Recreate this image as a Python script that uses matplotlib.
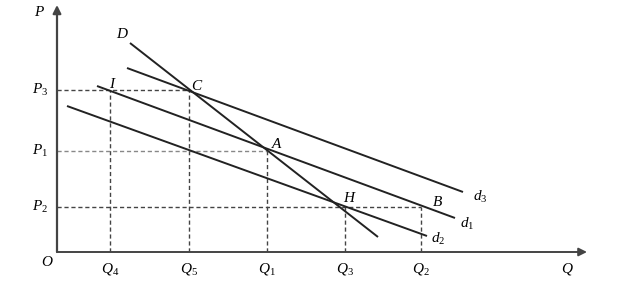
import matplotlib.pyplot as plt

plt.rcParams['mathtext.fontset'] = 'custom'
plt.rcParams['mathtext.it'] = 'Liberation Serif:italic'
plt.rcParams['mathtext.rm'] = 'Liberation Serif'

# demand curves: start / end points (Q, P)
d_x = [73, 321]
d_y = [209, 15]
d3_x = [70, 406]
d3_y = [184, 60]
d1_x = [40, 398]
d1_y = [166, 34]
d2_x = [10, 370]
d2_y = [146, 16]

q_names = ['$Q_4$', '$Q_5$', '$Q_1$', '$Q_3$', '$Q_2$']
q_vals = [53, 132, 210, 288, 364]
q_tops = [162, 162, 101, 45, 45]
p_names = ['$P_3$', '$P_1$', '$P_2$']
p_vals = [162, 101, 45]
p_ends = [132, 210, 364]
p_colors = ['#444444', '#888888', '#444444']

pt_names = ['D', 'C', 'I', 'A', 'H', 'B']
pt_x = [65, 140, 56, 220, 293, 380]
pt_y = [219, 166, 169, 108, 54, 50]

fig = plt.figure(figsize=(6.4, 2.82), dpi=100)
ax = fig.add_axes([57/640, 30/282, 530/640, 247/282])
ax.set_xlim(0, 530)
ax.set_ylim(0, 247)
ax.axis('off')

# axes with arrows
ax.annotate('', xy=(530, 0), xytext=(0, 0),
            arrowprops=dict(arrowstyle='-|>', color='#444444', lw=1.4,
                            mutation_scale=12, shrinkA=0, shrinkB=0))
ax.annotate('', xy=(0, 247), xytext=(0, 0),
            arrowprops=dict(arrowstyle='-|>', color='#444444', lw=1.6,
                            mutation_scale=12, shrinkA=0, shrinkB=0))

# guide lines
for x, top in zip(q_vals, q_tops):
    ax.plot([x, x], [0, top], ls=(0, (3, 2)), color='#444444', lw=1)
for y, end, c in zip(p_vals, p_ends, p_colors):
    ax.plot([0, end], [y, y], ls=(0, (3, 2)), color=c, lw=1)

for xs, ys in [(d_x, d_y), (d3_x, d3_y), (d1_x, d1_y), (d2_x, d2_y)]:
    ax.plot(xs, ys, color='#222222', lw=1.4, solid_capstyle='butt')

fs = 11
for name, x in zip(q_names, q_vals):
    ax.text(x, -9, name, ha='center', va='top', fontsize=fs)
ax.text(510, -9, '$Q$', ha='center', va='top', fontsize=fs)
for name, y in zip(p_names, p_vals):
    ax.text(-9, y, name, ha='right', va='center', fontsize=fs)
ax.text(-17, 240, '$P$', ha='center', va='center', fontsize=fs)
ax.text(-10, -10, '$O$', ha='center', va='center', fontsize=fs)

for name, x, y in zip(pt_names, pt_x, pt_y):
    ax.text(x, y, '$' + name + '$', ha='center', va='center', fontsize=fs)

ax.text(423, 55, '$d_3$', ha='center', va='center', fontsize=fs)
ax.text(410, 28, '$d_1$', ha='center', va='center', fontsize=fs)
ax.text(381, 13, '$d_2$', ha='center', va='center', fontsize=fs)

fig.savefig('out.png', dpi=100)
